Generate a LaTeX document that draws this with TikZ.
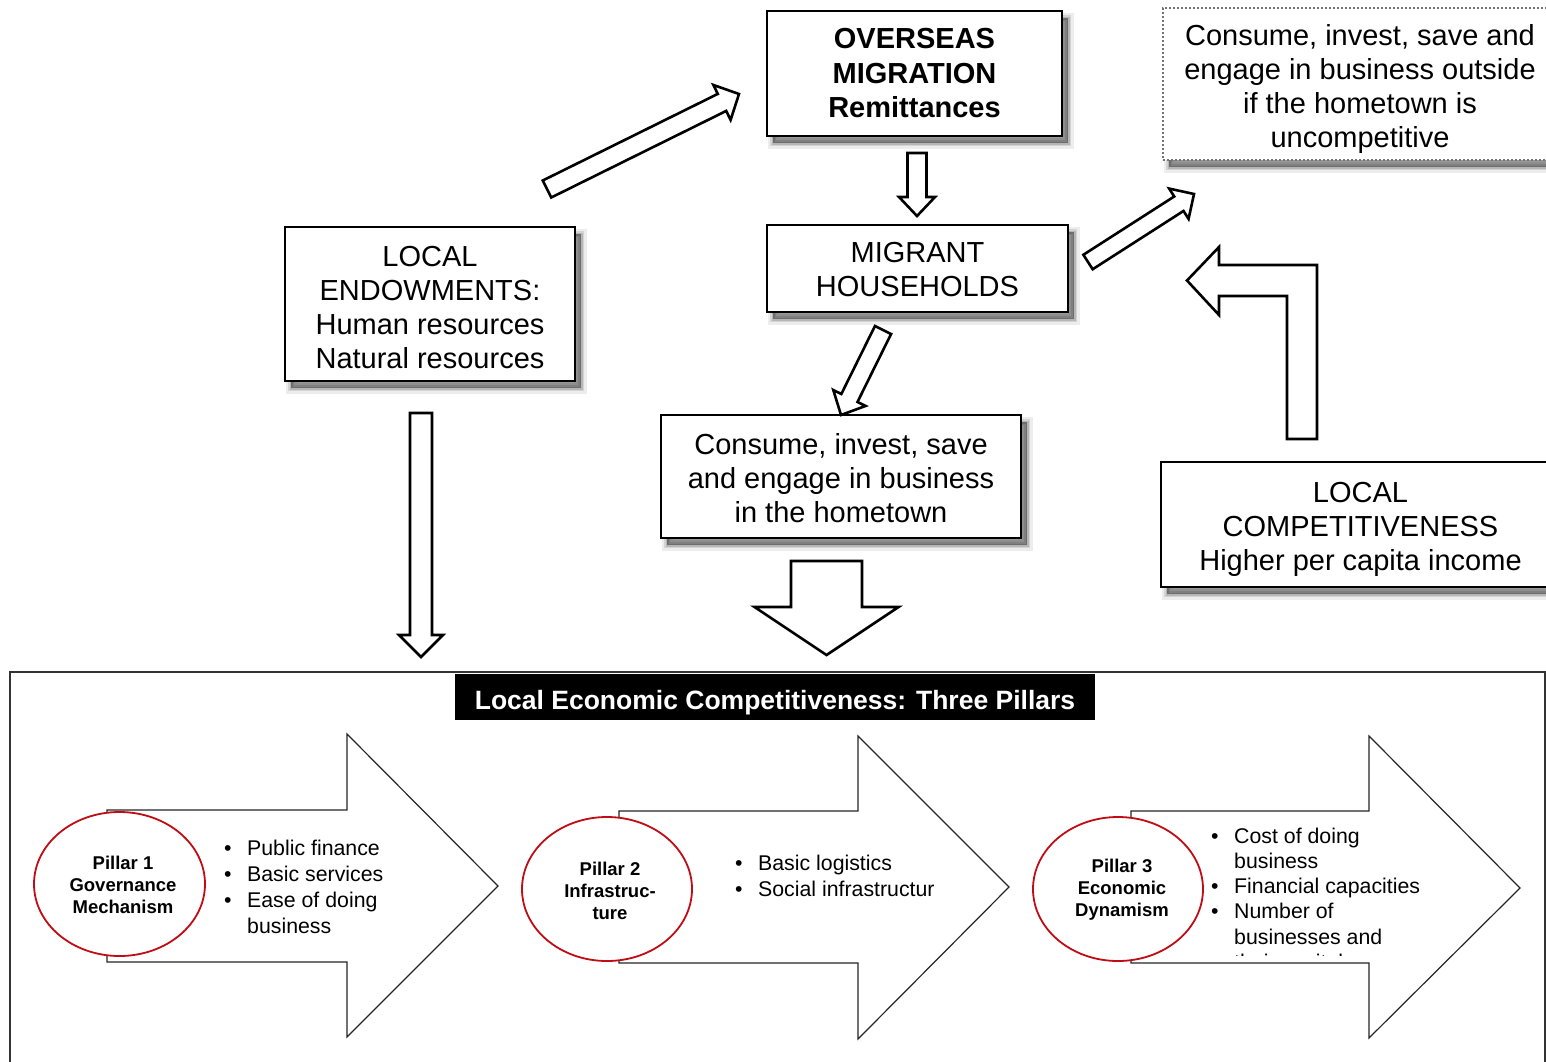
\documentclass[tikz,border=0pt]{standalone}
\usepackage{fontspec}
\setmainfont{Liberation Sans}
\usetikzlibrary{shapes.geometric,calc}
\definecolor{pillarred}{RGB}{192,12,20}
\newcommand\blockarr[5]{%
  \coordinate (ba-hb) at ($(#2)!#5!(#1)$);
  \draw[blockarrow] ($(#1)!#3!90:(#2)$) -- ($(ba-hb)!#3!90:(#2)$) -- ($(ba-hb)!#4!90:(#2)$) -- (#2)
     -- ($(ba-hb)!#4!-90:(#2)$) -- ($(ba-hb)!#3!-90:(#2)$) -- ($(#1)!#3!-90:(#2)$) -- cycle;
}
\newcommand\bul{\makebox[23pt][l]{•}}
\newcommand\tdown[1]{\rule{0pt}{#1}}
\tikzset{
  softshadow/.style={
    preaction={solid, fill=black, fill opacity=0.40, draw=black, draw opacity=0.07, line width=11pt,
               transform canvas={shift={(6pt,-7pt)}}},
    preaction={solid, draw=black, draw opacity=0.10, line width=6.5pt,
               transform canvas={shift={(6pt,-7pt)}}},
    preaction={solid, draw=black, draw opacity=0.14, line width=3pt,
               transform canvas={shift={(6pt,-7pt)}}}},
  mainbox/.style={softshadow, draw=black, line width=2pt, fill=white, inner sep=0pt,
                  align=center, font=\fontsize{29}{34}\selectfont},
  dotbox/.style={mainbox, draw=black!55, dotted, line width=1.6pt},
  blockarrow/.style={draw=black, line width=2.6pt, fill=white, line join=miter},
  pillararrow/.style={draw=black!85, line width=1.2pt, fill=white, line join=miter},
  pillarellipse/.style={ellipse, draw=pillarred, line width=1.8pt, fill=white, inner sep=0pt,
                        minimum width=171pt, minimum height=144pt},
  pillartext/.style={inner sep=0pt, align=center, font=\bfseries\fontsize{18.5}{22}\selectfont},
  bullets/.style={anchor=base west, inner sep=0pt},
}
\begin{document}
\begin{tikzpicture}[x=1pt,y=-1pt]
\useasboundingbox (0,0) rectangle (1546,1061);
\clip (0,0) rectangle (1546,1061);
\fill[white] (0,0) rectangle (1546,1061);

% boxes
\node[mainbox, font=\bfseries\fontsize{29}{34.5}\selectfont, minimum width=295pt, minimum height=125pt] (ovs) at (914.5,73.5)
  {OVERSEAS\\MIGRATION\\Remittances};
\node[dotbox, minimum width=394pt, minimum height=152pt] (out) at (1360,84)
  {\tdown{32pt}Consume, invest, save and\\engage in business outside\\if the hometown is\\uncompetitive};
\node[mainbox, minimum width=290pt, minimum height=154pt] (endow) at (430,304)
  {\tdown{27pt}LOCAL\\ENDOWMENTS:\\Human resources\\Natural resources};
\node[mainbox, minimum width=301pt, minimum height=87pt] (mig) at (917.5,268.5)
  {\tdown{23pt}MIGRANT\\HOUSEHOLDS};
\node[mainbox, minimum width=360pt, minimum height=123pt] (cons) at (841,476.5)
  {\tdown{25pt}Consume, invest, save\\and engage in business\\in the hometown};
\node[mainbox, minimum width=399pt, minimum height=125pt] (comp) at (1360.5,524.5)
  {\tdown{29pt}LOCAL\\COMPETITIVENESS\\Higher per capita income};

% block arrow end points
\coordinate (a1s) at (547,189);   \coordinate (a1t) at (739,94);
\coordinate (a2s) at (917,153);   \coordinate (a2t) at (917,216);
\coordinate (a3s) at (883,330);   \coordinate (a3t) at (841,415);
\coordinate (a4s) at (421,413);   \coordinate (a4t) at (421,657);
\coordinate (a5s) at (826.5,561); \coordinate (a5t) at (826.5,655);
\coordinate (a6s) at (1088,262);  \coordinate (a6t) at (1194,194);

\blockarr{a1s}{a1t}{9.5pt}{19.5pt}{19pt}
\blockarr{a2s}{a2t}{9.5pt}{18pt}{19pt}
\blockarr{a3s}{a3t}{9pt}{18pt}{19pt}
\blockarr{a4s}{a4t}{11pt}{22pt}{22pt}
\blockarr{a5s}{a5t}{35.5pt}{72pt}{48pt}
\blockarr{a6s}{a6t}{8.6pt}{18pt}{18pt}

% bent arrow from local competitiveness
\draw[blockarrow] (1317,439) -- (1317,265) -- (1219,265) -- (1219,247) -- (1187,280.5)
  -- (1219,315) -- (1219,296) -- (1287,296) -- (1287,439) -- cycle;

% bottom panel
\draw[draw=black!80, line width=1.2pt] (10,672) rectangle (1545,1080);
\node[fill=black, text=white, inner sep=0pt, minimum width=640pt, minimum height=46pt,
      font=\bfseries\fontsize{26.5}{30}\selectfont] (title) at (775,697)
  {\tdown{30pt}Local Economic Competitiveness: Three Pillars};

% pillar arrows
\draw[pillararrow] (107,810) -- (347,810) -- (347,734) -- (498,886) -- (347,1037) -- (347,962) -- (107,962) -- cycle;
\draw[pillararrow] (619,811) -- (858,811) -- (858,736) -- (1009,887) -- (858,1039) -- (858,963) -- (619,963) -- cycle;
\draw[pillararrow] (1131,811) -- (1369,811) -- (1369,736) -- (1520,888) -- (1369,1038) -- (1369,963) -- (1131,963) -- cycle;

\node[pillarellipse] (p1) at (119.5,884) {};
\node[pillarellipse, minimum width=170pt] (p2) at (607,889) {};
\node[pillarellipse, minimum width=170pt] (p3) at (1118,889) {};
\node[pillartext] (p1t) at ($(p1)+(3.5,1)$) {Pillar 1\\Governance\\Mechanism};
\node[pillartext] (p2t) at ($(p2)+(3,1.5)$) {Pillar 2\\Infrastruc-\\ture};
\node[pillartext] (p3t) at ($(p3)+(4,1)$) {Pillar 3\\Economic\\Dynamism};

\node[bullets, font=\fontsize{21.3}{26}\selectfont] (l1) at (224,855)
  {\begin{tabular}[t]{@{}l@{}l@{}}\bul&Public finance\\ \bul&Basic services\\ \bul&Ease of doing\\ &business\end{tabular}};
\node[bullets, font=\fontsize{21.3}{26}\selectfont] (l2) at (735,870)
  {\begin{tabular}[t]{@{}l@{}l@{}}\bul&Basic logistics\\ \bul&Social infrastructur\end{tabular}};
\begin{scope}
  \clip (1200,815) rectangle (1500,955);
  \node[bullets, font=\fontsize{21.3}{25.3}\selectfont] (l3) at (1211,843)
    {\begin{tabular}[t]{@{}l@{}l@{}}\bul&Cost of doing\\ &business\\ \bul&Financial capacities\\ \bul&Number of\\ &businesses and\\ &their capital\end{tabular}};
\end{scope}
\end{tikzpicture}
\end{document}
